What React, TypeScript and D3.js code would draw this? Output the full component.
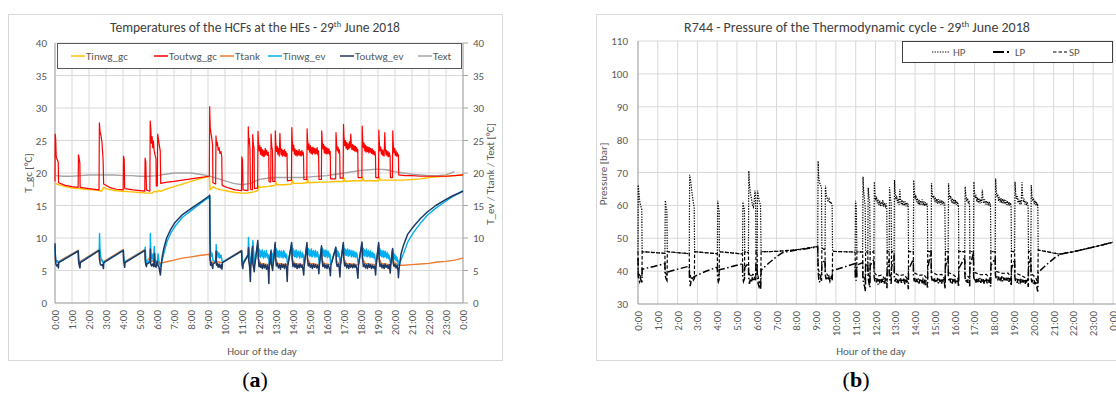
import React from "react";
import * as d3 from "d3";

type Pt = [number, number];

// ---------- shared axis data ----------
const HOUR_LABELS = [
  "0:00", "1:00", "2:00", "3:00", "4:00", "5:00", "6:00", "7:00", "8:00", "9:00",
  "10:00", "11:00", "12:00", "13:00", "14:00", "15:00", "16:00", "17:00", "18:00",
  "19:00", "20:00", "21:00", "22:00", "23:00", "0:00",
];
const T_TICKS = [0, 5, 10, 15, 20, 25, 30, 35, 40];
const P_TICKS = [30, 40, 50, 60, 70, 80, 90, 100, 110];

// ---------- (a) temperatures [hour, °C] ----------
const TINWG_GC: Pt[] = [
  [0, 18.4], [0.2, 18.2], [0.6, 17.9], [1.0, 17.7], [1.4, 17.6], [1.8, 17.5], [2.2, 17.4], [2.6, 17.3], [2.75, 17.2], [2.85, 17.8],
  [3.0, 17.6], [3.5, 17.3], [4.0, 17.2], [4.5, 17.1], [5.0, 17.0], [5.4, 16.9], [5.7, 16.9], [5.85, 17.2], [6.0, 17.1], [6.1, 17.3],
  [6.25, 17.2], [6.5, 17.5], [7.0, 17.9], [7.5, 18.3], [8.0, 18.7], [8.5, 19.1], [9.08, 19.5], [9.12, 17.4], [9.2, 17.6], [9.3, 17.9],
  [9.5, 17.6], [9.8, 17.4], [10.2, 17.2], [10.6, 17.0], [11.0, 16.9], [11.3, 16.9], [11.5, 17.0], [11.7, 17.1], [11.93, 17.3], [11.96, 18.0],
  [12.05, 17.8], [12.5, 17.9], [12.7, 18.0], [12.95, 18.1], [12.98, 18.7], [13.05, 18.2], [13.5, 18.2], [13.92, 18.3], [13.95, 18.9], [14.02, 18.4],
  [14.5, 18.4], [14.82, 18.5], [14.85, 19.1], [14.92, 18.5], [15.5, 18.6], [16.0, 18.6], [16.5, 18.7], [16.96, 18.7], [16.99, 19.3], [17.06, 18.7],
  [17.5, 18.8], [18.06, 18.8], [18.09, 19.4], [18.16, 18.8], [18.5, 18.8], [19.04, 18.8], [19.07, 19.4], [19.14, 18.9], [19.5, 18.9], [20.0, 18.9],
  [20.2, 18.9], [20.5, 18.9], [21.0, 19.0], [21.5, 19.1], [22.0, 19.3], [22.5, 19.4], [23.0, 19.5], [23.5, 19.6], [24, 19.7],
];

const TOUTWG_GC: Pt[] = [
  [0, 18.7], [0.01, 26.0], [0.04, 25.3], [0.07, 22.6], [0.12, 22.1], [0.19, 21.7], [0.21, 18.5], [0.6, 18.1], [1.0, 17.9], [1.36, 17.8],
  [1.38, 22.8], [1.42, 22.2], [1.46, 21.6], [1.48, 17.8], [2.0, 17.6], [2.59, 17.4], [2.61, 27.7], [2.65, 26.4], [2.7, 25.8], [2.76, 24.8],
  [2.83, 22.0], [2.86, 18.3], [3.2, 17.8], [3.6, 17.5], [4.01, 17.4], [4.03, 22.6], [4.07, 22.1], [4.1, 17.6], [4.6, 17.4], [5.0, 17.3],
  [5.28, 17.2], [5.3, 22.3], [5.34, 21.7], [5.38, 17.4], [5.58, 17.2], [5.6, 28.0], [5.63, 27.0], [5.67, 24.6], [5.71, 25.6], [5.75, 23.9],
  [5.79, 24.9], [5.83, 23.5], [5.88, 22.8], [5.94, 22.2], [5.96, 18.0], [6.02, 18.0], [6.04, 26.0], [6.09, 25.1], [6.14, 24.2], [6.19, 23.4],
  [6.22, 18.4], [6.6, 18.6], [7.0, 18.7], [7.5, 18.9], [8.0, 19.1], [8.5, 19.3], [9.08, 19.5], [9.1, 30.2], [9.13, 27.0], [9.17, 26.2],
  [9.22, 25.4], [9.27, 24.3], [9.29, 18.5], [9.45, 18.3], [9.47, 25.7], [9.51, 24.2], [9.55, 24.7], [9.6, 23.5], [9.65, 23.9], [9.7, 23.0],
  [9.76, 23.3], [9.81, 22.5], [9.83, 18.1], [10.2, 17.7], [10.6, 17.4], [10.97, 17.3], [10.99, 22.5], [11.03, 22.0], [11.06, 17.4], [11.35, 17.3],
  [11.37, 27.1], [11.4, 24.5], [11.43, 25.3], [11.47, 23.6], [11.5, 17.5], [11.61, 17.4], [11.63, 25.9], [11.67, 24.4], [11.71, 23.8], [11.73, 17.6],
  [11.92, 17.7], [11.94, 26.4], [11.97, 24.8], [12.01, 23.4], [12.05, 24.2], [12.09, 22.9], [12.13, 23.9], [12.17, 22.7], [12.21, 23.6], [12.25, 22.5],
  [12.29, 23.4], [12.33, 22.6], [12.37, 23.8], [12.41, 22.8], [12.45, 23.5], [12.5, 22.7], [12.54, 23.2], [12.57, 22.6], [12.59, 18.7], [12.69, 18.6],
  [12.71, 26.0], [12.75, 24.1], [12.79, 23.5], [12.81, 18.7], [12.94, 18.7], [12.96, 26.5], [12.99, 24.6], [13.03, 23.3], [13.07, 24.1], [13.11, 22.9],
  [13.15, 23.8], [13.19, 22.6], [13.23, 26.1], [13.26, 23.9], [13.3, 22.8], [13.34, 23.7], [13.38, 22.6], [13.42, 23.5], [13.46, 22.7], [13.5, 23.6],
  [13.54, 22.5], [13.58, 23.3], [13.62, 22.6], [13.65, 23.0], [13.67, 18.8], [13.91, 18.9], [13.93, 27.0], [13.96, 24.8], [14.0, 23.4], [14.04, 24.3],
  [14.08, 22.9], [14.12, 23.7], [14.16, 22.7], [14.2, 23.5], [14.24, 22.6], [14.28, 23.4], [14.32, 22.8], [14.36, 23.6], [14.4, 22.7], [14.44, 23.3],
  [14.48, 22.6], [14.52, 23.5], [14.56, 22.8], [14.6, 23.2], [14.62, 22.7], [14.64, 19.0], [14.81, 19.0], [14.83, 26.8], [14.86, 24.9], [14.9, 23.6],
  [14.94, 24.5], [14.98, 23.2], [15.02, 24.2], [15.06, 23.0], [15.1, 23.9], [15.14, 22.9], [15.18, 24.0], [15.22, 23.1], [15.26, 23.8], [15.3, 22.9],
  [15.34, 23.7], [15.38, 23.0], [15.42, 23.9], [15.46, 22.8], [15.5, 23.4], [15.53, 19.0], [15.67, 19.0], [15.69, 26.5], [15.72, 24.9], [15.76, 23.7],
  [15.8, 24.4], [15.84, 23.1], [15.88, 24.1], [15.92, 23.0], [15.96, 23.9], [16.0, 22.9], [16.04, 23.8], [16.08, 23.0], [16.12, 23.7], [16.16, 22.8],
  [16.19, 23.3], [16.21, 19.1], [16.51, 19.1], [16.53, 26.2], [16.57, 24.3], [16.61, 23.4], [16.65, 24.0], [16.69, 23.1], [16.73, 23.6], [16.75, 22.9],
  [16.77, 19.2], [16.95, 19.2], [16.97, 27.5], [17.0, 25.6], [17.04, 24.2], [17.08, 25.0], [17.12, 23.8], [17.16, 24.7], [17.2, 23.6], [17.24, 24.5],
  [17.28, 23.7], [17.32, 24.8], [17.36, 23.9], [17.4, 26.0], [17.43, 24.3], [17.47, 23.6], [17.51, 24.4], [17.55, 23.5], [17.59, 24.2], [17.63, 23.4],
  [17.67, 24.1], [17.71, 23.3], [17.75, 23.9], [17.79, 23.2], [17.81, 23.6], [17.83, 19.3], [18.05, 19.3], [18.07, 27.2], [18.1, 25.1], [18.14, 23.9],
  [18.18, 24.6], [18.22, 23.4], [18.26, 24.3], [18.3, 23.2], [18.34, 24.1], [18.38, 23.3], [18.42, 24.0], [18.46, 23.1], [18.5, 23.9], [18.54, 23.2],
  [18.58, 23.8], [18.62, 23.0], [18.66, 23.7], [18.7, 22.9], [18.74, 23.5], [18.78, 22.8], [18.82, 23.3], [18.85, 22.7], [18.87, 19.3], [19.03, 19.3],
  [19.05, 26.6], [19.08, 24.6], [19.12, 23.4], [19.16, 24.0], [19.2, 22.9], [19.24, 23.6], [19.28, 22.7], [19.32, 23.4], [19.36, 22.6], [19.4, 26.2],
  [19.43, 23.8], [19.47, 22.8], [19.51, 23.5], [19.55, 22.6], [19.59, 23.3], [19.63, 22.5], [19.67, 23.1], [19.71, 22.6], [19.73, 19.3], [19.85, 19.3],
  [19.87, 26.5], [19.9, 24.3], [19.94, 23.1], [19.98, 23.8], [20.02, 22.7], [20.06, 23.4], [20.1, 22.6], [20.14, 23.1], [20.18, 22.5], [20.2, 22.8],
  [20.22, 19.7], [20.6, 19.6], [21.0, 19.6], [21.5, 19.5], [22.0, 19.5], [22.5, 19.5], [23.0, 19.5], [23.5, 19.6], [24, 19.7],
];

const TTANK: Pt[] = [
  [0, 7.1], [0.03, 6.5], [0.2, 6.3], [0.22, 6.4], [1.36, 8.1], [1.38, 6.6], [1.47, 6.3], [1.49, 6.4], [2.59, 8.2], [2.62, 6.7],
  [2.85, 6.3], [2.87, 6.4], [4.01, 8.2], [4.04, 6.6], [4.1, 6.3], [4.12, 6.4], [5.28, 8.2], [5.31, 6.7], [5.38, 6.4], [5.4, 6.5],
  [5.58, 6.9], [5.61, 6.5], [5.95, 6.3], [6.03, 6.5], [6.2, 6.1], [6.5, 6.3], [7.0, 6.6], [7.5, 6.9], [8.0, 7.1], [8.5, 7.3],
  [9.08, 7.5], [9.12, 6.6], [9.3, 6.2], [9.46, 6.4], [9.82, 6.2], [9.85, 6.3], [10.97, 8.1], [11.0, 6.5], [11.05, 6.2], [11.07, 6.3],
  [11.35, 7.3], [11.4, 6.4], [11.49, 5.8], [11.52, 6.0], [11.61, 8.4], [11.64, 6.5], [11.72, 5.7], [11.75, 6.0], [11.92, 9.0], [11.96, 6.8],
  [12.1, 6.1], [12.58, 5.9], [12.6, 6.0], [12.69, 7.8], [12.72, 6.4], [12.8, 5.9], [12.83, 6.0], [12.94, 8.8], [12.98, 6.8], [13.1, 6.1],
  [13.66, 5.9], [13.69, 6.0], [13.91, 8.8], [13.95, 6.8], [14.1, 6.1], [14.63, 5.9], [14.66, 6.0], [14.81, 8.7], [14.85, 6.8], [15.0, 6.1],
  [15.52, 5.9], [15.55, 6.0], [15.67, 8.4], [15.71, 6.6], [15.85, 6.1], [16.2, 5.9], [16.23, 6.0], [16.51, 8.3], [16.55, 6.5], [16.76, 5.9],
  [16.79, 6.0], [16.95, 8.8], [16.99, 6.8], [17.15, 6.1], [17.82, 5.9], [17.85, 6.0], [18.05, 8.9], [18.09, 6.8], [18.25, 6.1], [18.86, 5.9],
  [18.89, 6.0], [19.03, 8.8], [19.07, 6.8], [19.2, 6.1], [19.72, 5.9], [19.75, 6.0], [19.85, 8.1], [19.89, 6.4], [20.2, 5.8], [20.5, 5.8],
  [21.0, 5.9], [21.5, 6.0], [22.0, 6.1], [22.5, 6.3], [23.0, 6.4], [23.5, 6.6], [24, 6.9],
];

const TINWG_EV: Pt[] = [
  [0, 8.8], [0.02, 7.6], [0.05, 6.6], [0.1, 6.3], [0.15, 6.5], [0.2, 6.0], [0.22, 6.3], [1.37, 8.0], [1.39, 6.9], [1.43, 6.3],
  [1.47, 6.0], [1.49, 6.3], [2.6, 8.1], [2.62, 10.7], [2.65, 8.3], [2.7, 6.9], [2.77, 6.6], [2.85, 6.0], [2.87, 6.3], [4.02, 8.1],
  [4.04, 7.1], [4.08, 6.4], [4.1, 6.1], [4.12, 6.3], [5.29, 8.1], [5.31, 8.6], [5.35, 6.7], [5.38, 6.2], [5.4, 6.3], [5.59, 6.5],
  [5.61, 10.7], [5.64, 8.0], [5.68, 6.8], [5.73, 7.5], [5.78, 6.5], [5.84, 8.7], [5.88, 6.7], [5.95, 6.1], [5.99, 6.4], [6.03, 6.6],
  [6.06, 7.6], [6.12, 6.4], [6.2, 5.6], [6.25, 6.0], [6.3, 6.5], [6.4, 7.6], [6.57, 9.3], [6.8, 10.7], [7.06, 11.8], [7.5, 13.2],
  [8.1, 14.4], [8.6, 15.4], [9.08, 16.3], [9.1, 16.4], [9.12, 11.2], [9.15, 8.1], [9.19, 7.2], [9.23, 7.7], [9.28, 6.8], [9.3, 6.5],
  [9.46, 6.4], [9.48, 9.0], [9.52, 7.4], [9.56, 7.9], [9.6, 7.0], [9.65, 7.7], [9.7, 6.9], [9.76, 7.4], [9.82, 6.6], [9.85, 6.3],
  [10.98, 8.0], [11.0, 6.9], [11.05, 6.2], [11.07, 6.2], [11.36, 7.5], [11.38, 10.1], [11.41, 8.5], [11.45, 7.6], [11.49, 6.3], [11.52, 6.0],
  [11.62, 8.7], [11.64, 9.6], [11.68, 8.0], [11.72, 7.0], [11.75, 6.1], [11.93, 9.0], [11.95, 8.6], [11.98, 7.6], [12.01, 8.3], [12.04, 7.2],
  [12.07, 8.1], [12.1, 7.0], [12.13, 7.9], [12.16, 7.3], [12.19, 8.2], [12.22, 7.1], [12.25, 7.8], [12.28, 6.9], [12.31, 8.0], [12.34, 7.2],
  [12.37, 7.7], [12.4, 7.0], [12.43, 8.1], [12.46, 7.3], [12.49, 7.6], [12.52, 6.9], [12.55, 7.4], [12.58, 6.4], [12.6, 5.8], [12.7, 7.9],
  [12.72, 8.2], [12.75, 7.3], [12.78, 7.6], [12.8, 6.5], [12.83, 6.0], [12.95, 9.0], [12.97, 8.5], [13.0, 7.6], [13.03, 8.3], [13.06, 7.2],
  [13.09, 8.0], [13.12, 7.1], [13.15, 7.9], [13.18, 7.0], [13.21, 8.1], [13.24, 7.3], [13.27, 7.8], [13.3, 7.0], [13.33, 8.0], [13.36, 7.2],
  [13.39, 7.7], [13.42, 6.9], [13.45, 8.1], [13.48, 7.2], [13.51, 7.8], [13.54, 7.0], [13.57, 7.6], [13.6, 6.9], [13.63, 7.4], [13.66, 6.3],
  [13.69, 5.9], [13.92, 9.0], [13.94, 8.6], [13.97, 7.6], [14.0, 8.4], [14.03, 7.3], [14.06, 8.1], [14.09, 7.1], [14.12, 7.9], [14.15, 7.2],
  [14.18, 8.2], [14.21, 7.0], [14.24, 7.8], [14.27, 7.1], [14.3, 8.0], [14.33, 7.3], [14.36, 7.7], [14.39, 6.9], [14.42, 8.0], [14.45, 7.2],
  [14.48, 7.6], [14.51, 7.0], [14.54, 7.8], [14.57, 7.1], [14.6, 7.5], [14.63, 6.4], [14.66, 5.9], [14.82, 9.0], [14.84, 8.7], [14.87, 7.7],
  [14.9, 8.4], [14.93, 7.4], [14.96, 8.2], [14.99, 7.2], [15.02, 8.0], [15.05, 7.3], [15.08, 8.3], [15.11, 7.1], [15.14, 7.9], [15.17, 7.2],
  [15.2, 8.1], [15.23, 7.4], [15.26, 7.8], [15.29, 7.0], [15.32, 8.1], [15.35, 7.3], [15.38, 7.7], [15.41, 7.1], [15.44, 7.9], [15.47, 7.2],
  [15.5, 7.4], [15.52, 6.5], [15.55, 5.9], [15.68, 8.6], [15.7, 8.5], [15.73, 7.6], [15.76, 8.3], [15.79, 7.3], [15.82, 8.1], [15.85, 7.2],
  [15.88, 8.0], [15.91, 7.1], [15.94, 8.2], [15.97, 7.3], [16.0, 7.9], [16.03, 7.0], [16.06, 8.0], [16.09, 7.2], [16.12, 7.7], [16.15, 7.0],
  [16.18, 7.5], [16.2, 6.4], [16.23, 5.9], [16.52, 8.4], [16.54, 8.3], [16.57, 7.4], [16.6, 8.1], [16.63, 7.2], [16.66, 7.9], [16.69, 7.1],
  [16.72, 7.6], [16.76, 6.3], [16.79, 5.9], [16.96, 9.0], [16.98, 8.7], [17.01, 7.7], [17.04, 8.4], [17.07, 7.4], [17.1, 8.2], [17.13, 7.3],
  [17.16, 8.1], [17.19, 7.4], [17.22, 8.3], [17.25, 7.2], [17.28, 8.0], [17.31, 7.3], [17.34, 8.2], [17.37, 7.4], [17.4, 7.9], [17.43, 7.1],
  [17.46, 8.1], [17.49, 7.3], [17.52, 7.8], [17.55, 7.1], [17.58, 8.0], [17.61, 7.2], [17.64, 7.7], [17.67, 7.0], [17.7, 7.8], [17.73, 7.1],
  [17.76, 7.6], [17.79, 7.0], [17.82, 6.3], [17.85, 5.9], [18.06, 9.1], [18.08, 8.7], [18.11, 7.7], [18.14, 8.4], [18.17, 7.3], [18.2, 8.2],
  [18.23, 7.2], [18.26, 8.0], [18.29, 7.4], [18.32, 8.3], [18.35, 7.1], [18.38, 7.9], [18.41, 7.2], [18.44, 8.1], [18.47, 7.3], [18.5, 7.8],
  [18.53, 7.0], [18.56, 8.0], [18.59, 7.2], [18.62, 7.7], [18.65, 7.0], [18.68, 7.8], [18.71, 7.1], [18.74, 7.6], [18.77, 6.9], [18.8, 7.5],
  [18.83, 6.9], [18.86, 6.3], [18.89, 5.9], [19.04, 9.0], [19.06, 8.6], [19.09, 7.6], [19.12, 8.3], [19.15, 7.3], [19.18, 8.1], [19.21, 7.1],
  [19.24, 7.9], [19.27, 7.2], [19.3, 8.1], [19.33, 7.0], [19.36, 7.8], [19.39, 7.1], [19.42, 8.0], [19.45, 7.2], [19.48, 7.6], [19.51, 6.9],
  [19.54, 7.8], [19.57, 7.0], [19.6, 7.5], [19.63, 6.8], [19.66, 7.3], [19.69, 6.7], [19.72, 6.2], [19.75, 5.9], [19.86, 8.2], [19.88, 8.0],
  [19.91, 7.1], [19.94, 7.6], [19.97, 6.8], [20.0, 7.4], [20.03, 6.6], [20.06, 7.2], [20.09, 6.5], [20.12, 7.0], [20.15, 6.3], [20.18, 6.6],
  [20.2, 5.8], [20.25, 5.9], [20.35, 6.6], [20.5, 7.6], [20.75, 9.4], [21.1, 10.9], [21.5, 12.3], [21.9, 13.5], [22.4, 14.6], [22.9, 15.5],
  [23.4, 16.4], [23.7, 16.8], [24, 17.3],
];

const TOUTWG_EV: Pt[] = [
  [0, 9.2], [0.02, 7.2], [0.05, 6.0], [0.1, 5.7], [0.15, 5.9], [0.2, 5.4], [0.22, 6.2], [1.37, 8.0], [1.39, 6.3], [1.43, 5.7],
  [1.47, 5.4], [1.49, 6.2], [2.6, 8.1], [2.62, 6.8], [2.66, 6.0], [2.72, 5.8], [2.8, 5.9], [2.85, 5.3], [2.87, 6.2], [4.02, 8.1],
  [4.04, 6.4], [4.08, 5.8], [4.1, 5.5], [4.12, 6.2], [5.29, 8.1], [5.31, 6.4], [5.35, 5.8], [5.38, 5.6], [5.4, 6.0], [5.59, 6.3],
  [5.61, 8.3], [5.63, 6.0], [5.68, 5.7], [5.74, 6.0], [5.8, 5.6], [5.86, 7.6], [5.88, 5.7], [5.95, 5.5], [5.99, 6.2], [6.03, 6.4],
  [6.06, 5.8], [6.12, 5.5], [6.2, 4.3], [6.25, 5.8], [6.3, 7.0], [6.4, 8.4], [6.57, 10.0], [6.8, 11.3], [7.06, 12.4], [7.5, 13.6],
  [8.1, 14.7], [8.6, 15.6], [9.08, 16.5], [9.1, 16.6], [9.12, 7.0], [9.15, 5.8], [9.2, 6.2], [9.25, 5.6], [9.28, 5.3], [9.3, 6.0],
  [9.46, 6.3], [9.48, 8.0], [9.5, 5.8], [9.55, 6.1], [9.6, 5.5], [9.66, 6.0], [9.72, 5.4], [9.78, 5.9], [9.82, 5.2], [9.85, 6.2],
  [10.98, 8.0], [11.0, 6.0], [11.05, 5.3], [11.07, 6.0], [11.36, 7.4], [11.38, 8.5], [11.4, 6.5], [11.45, 5.5], [11.49, 3.3], [11.52, 5.6],
  [11.62, 8.7], [11.64, 6.0], [11.7, 5.2], [11.72, 4.8], [11.75, 5.8], [11.93, 9.6], [11.96, 7.0], [12.0, 5.6], [12.05, 6.1], [12.1, 5.5],
  [12.15, 5.9], [12.2, 5.3], [12.26, 6.0], [12.32, 5.4], [12.38, 5.9], [12.44, 5.2], [12.5, 5.8], [12.55, 4.9], [12.58, 3.0], [12.6, 5.5],
  [12.7, 8.0], [12.72, 6.0], [12.77, 5.5], [12.8, 5.0], [12.83, 5.8], [12.95, 9.3], [12.98, 6.8], [13.02, 5.7], [13.08, 6.1], [13.14, 5.4],
  [13.2, 5.9], [13.26, 5.2], [13.32, 6.0], [13.38, 5.5], [13.44, 5.9], [13.5, 5.3], [13.56, 6.0], [13.62, 5.4], [13.66, 3.3], [13.69, 5.6],
  [13.92, 9.3], [13.95, 6.8], [14.0, 5.6], [14.06, 6.1], [14.12, 5.5], [14.18, 6.0], [14.24, 5.3], [14.3, 5.9], [14.36, 5.4], [14.42, 6.0],
  [14.48, 5.5], [14.54, 5.8], [14.6, 5.0], [14.63, 4.3], [14.66, 5.7], [14.82, 9.3], [14.85, 6.9], [14.9, 5.7], [14.96, 6.1], [15.02, 5.5],
  [15.08, 5.9], [15.14, 5.3], [15.2, 6.0], [15.26, 5.5], [15.32, 5.9], [15.38, 5.4], [15.44, 5.8], [15.5, 5.2], [15.52, 4.5], [15.55, 5.8],
  [15.68, 8.8], [15.71, 6.6], [15.76, 5.6], [15.82, 6.0], [15.88, 5.4], [15.94, 5.9], [16.0, 5.3], [16.06, 5.9], [16.12, 5.5], [16.17, 5.0],
  [16.2, 4.2], [16.23, 5.8], [16.52, 8.6], [16.55, 6.2], [16.6, 5.6], [16.66, 6.0], [16.72, 5.4], [16.76, 4.0], [16.79, 5.8], [16.96, 9.3],
  [16.99, 6.8], [17.04, 5.7], [17.1, 6.1], [17.16, 5.4], [17.22, 5.9], [17.28, 5.3], [17.34, 6.0], [17.4, 5.5], [17.46, 5.9], [17.52, 5.4],
  [17.58, 6.0], [17.64, 5.5], [17.7, 5.8], [17.76, 5.2], [17.82, 3.8], [17.85, 5.8], [18.06, 9.4], [18.09, 6.9], [18.14, 5.6], [18.2, 6.0],
  [18.26, 5.4], [18.32, 5.9], [18.38, 5.3], [18.44, 6.0], [18.5, 5.5], [18.56, 5.9], [18.62, 5.3], [18.68, 5.8], [18.74, 5.4], [18.8, 5.7],
  [18.86, 4.3], [18.89, 5.8], [19.04, 9.3], [19.07, 6.8], [19.12, 5.6], [19.18, 6.0], [19.24, 5.4], [19.3, 5.9], [19.36, 5.3], [19.42, 6.0],
  [19.48, 5.5], [19.54, 5.8], [19.6, 5.3], [19.66, 5.9], [19.72, 4.6], [19.75, 5.8], [19.86, 8.4], [19.89, 6.2], [19.95, 5.6], [20.0, 6.0],
  [20.06, 5.4], [20.12, 5.8], [20.18, 5.0], [20.2, 3.9], [20.25, 5.5], [20.35, 7.5], [20.5, 8.9], [20.75, 10.6], [21.1, 11.8], [21.5, 13.0],
  [21.9, 14.0], [22.4, 15.0], [22.9, 15.8], [23.4, 16.5], [24, 17.2],
];

const TEXT_AIR: Pt[] = [
  [0, 19.6], [0.5, 19.5], [1.0, 19.5], [1.5, 19.6], [2.0, 19.7], [2.5, 19.7], [3.0, 19.7], [3.5, 19.7], [4.0, 19.6], [4.5, 19.6],
  [5.0, 19.5], [5.5, 19.5], [6.0, 19.6], [6.5, 19.8], [7.0, 20.0], [7.5, 20.0], [8.0, 20.0], [8.5, 19.8], [9.0, 19.6], [9.5, 19.2],
  [10.0, 18.8], [10.5, 18.4], [11.0, 18.2], [11.5, 18.4], [12.0, 19.0], [12.5, 19.2], [13.0, 19.3], [13.5, 19.3], [14.0, 19.3], [14.5, 19.3],
  [15.0, 19.4], [15.5, 19.5], [16.0, 19.6], [16.5, 19.8], [17.0, 20.0], [17.5, 20.2], [18.0, 20.4], [18.5, 20.5], [19.0, 20.6], [19.5, 20.5],
  [20.0, 20.2], [20.5, 20.0], [21.0, 19.8], [21.5, 19.7], [22.0, 19.6], [22.5, 19.6], [23.0, 19.7], [23.5, 20.2],
];

// ---------- (b) pressures [hour, bar] ----------
const HP: Pt[] = [
  [0, 45.8], [0.01, 66.2], [0.04, 64.5], [0.08, 61.5], [0.13, 60.0], [0.19, 58.8], [0.21, 45.9], [0.8, 45.7], [1.36, 45.4], [1.38, 61.5],
  [1.42, 59.6], [1.46, 58.5], [1.48, 45.9], [2.0, 45.6], [2.59, 45.3], [2.61, 69.3], [2.66, 67.6], [2.71, 64.8], [2.77, 61.8], [2.84, 59.4],
  [2.86, 45.9], [3.4, 45.6], [4.01, 45.3], [4.03, 61.4], [4.07, 59.1], [4.1, 58.6], [4.11, 45.9], [4.7, 45.6], [5.28, 45.2], [5.3, 61.0],
  [5.34, 59.5], [5.38, 58.8], [5.39, 45.9], [5.58, 45.6], [5.6, 70.5], [5.63, 66.5], [5.68, 63.6], [5.73, 62.2], [5.78, 60.2], [5.83, 59.5],
  [5.87, 61.2], [5.91, 64.5], [5.94, 63.2], [5.96, 45.9], [6.02, 45.7], [6.04, 64.5], [6.08, 63.0], [6.13, 61.3], [6.19, 60.0], [6.22, 45.9],
  [7.0, 46.0], [7.5, 46.2], [8.0, 46.5], [8.5, 46.9], [9.08, 47.5], [9.1, 73.5], [9.13, 68.5], [9.17, 67.0], [9.21, 66.4], [9.27, 65.5],
  [9.29, 47.0], [9.45, 46.5], [9.47, 66.0], [9.51, 63.4], [9.55, 62.3], [9.6, 61.4], [9.65, 62.0], [9.7, 60.6], [9.76, 61.1], [9.81, 59.8],
  [9.83, 46.0], [10.4, 45.9], [10.97, 45.8], [10.99, 61.4], [11.03, 59.4], [11.06, 45.9], [11.35, 45.8], [11.37, 68.7], [11.4, 64.5], [11.44, 62.0],
  [11.48, 59.6], [11.5, 45.9], [11.61, 45.8], [11.63, 65.4], [11.67, 62.6], [11.71, 60.5], [11.73, 45.9], [11.92, 45.8], [11.94, 67.2], [11.97, 64.0],
  [12.01, 61.5], [12.05, 62.7], [12.09, 60.6], [12.13, 61.9], [12.17, 60.1], [12.21, 61.5], [12.25, 59.8], [12.29, 61.1], [12.33, 59.9], [12.37, 61.6],
  [12.41, 59.6], [12.45, 60.8], [12.5, 59.7], [12.54, 60.6], [12.57, 59.5], [12.59, 46.0], [12.69, 45.9], [12.71, 65.5], [12.75, 62.2], [12.79, 61.0],
  [12.81, 46.0], [12.94, 45.9], [12.96, 67.7], [12.99, 64.2], [13.03, 61.8], [13.07, 62.9], [13.11, 60.7], [13.15, 62.0], [13.19, 60.2], [13.23, 65.0],
  [13.26, 62.0], [13.3, 60.4], [13.34, 61.7], [13.38, 60.0], [13.42, 61.4], [13.46, 59.9], [13.5, 61.2], [13.54, 59.7], [13.58, 60.9], [13.62, 59.8],
  [13.65, 60.5], [13.67, 46.0], [13.91, 45.9], [13.93, 67.7], [13.96, 64.6], [14.0, 62.0], [14.04, 63.1], [14.08, 61.0], [14.12, 62.2], [14.16, 60.4],
  [14.2, 61.8], [14.24, 60.1], [14.28, 61.5], [14.32, 60.3], [14.36, 61.8], [14.4, 60.0], [14.44, 61.2], [14.48, 59.8], [14.52, 61.0], [14.56, 59.9],
  [14.6, 60.7], [14.62, 59.6], [14.64, 46.0], [14.81, 45.9], [14.83, 66.7], [14.86, 63.9], [14.9, 62.2], [14.94, 63.0], [14.98, 61.2], [15.02, 62.5],
  [15.06, 60.8], [15.1, 62.0], [15.14, 60.5], [15.18, 61.9], [15.22, 60.6], [15.26, 61.7], [15.3, 60.2], [15.34, 61.5], [15.38, 60.4], [15.42, 61.3],
  [15.46, 60.0], [15.5, 60.8], [15.53, 46.0], [15.67, 45.9], [15.69, 66.7], [15.72, 63.8], [15.76, 62.0], [15.8, 62.9], [15.84, 60.9], [15.88, 62.2],
  [15.92, 60.5], [15.96, 61.9], [16.0, 60.3], [16.04, 61.6], [16.08, 60.2], [16.12, 61.2], [16.16, 59.9], [16.19, 60.6], [16.21, 46.0], [16.51, 45.9],
  [16.53, 65.7], [16.57, 62.8], [16.61, 61.3], [16.65, 62.2], [16.69, 60.5], [16.73, 61.4], [16.75, 60.2], [16.77, 46.0], [16.95, 45.9], [16.97, 67.2],
  [17.0, 64.3], [17.04, 62.3], [17.08, 63.2], [17.12, 61.1], [17.16, 62.4], [17.2, 60.7], [17.24, 62.0], [17.28, 60.6], [17.32, 61.9], [17.36, 60.8],
  [17.4, 64.8], [17.43, 62.0], [17.47, 60.6], [17.51, 61.8], [17.55, 60.3], [17.59, 61.5], [17.63, 60.2], [17.67, 61.3], [17.71, 60.0], [17.75, 61.1],
  [17.79, 59.9], [17.81, 60.5], [17.83, 46.0], [18.05, 45.9], [18.07, 68.2], [18.1, 64.8], [18.14, 62.5], [18.18, 63.4], [18.22, 61.3], [18.26, 62.6],
  [18.3, 60.9], [18.34, 62.2], [18.38, 60.7], [18.42, 62.0], [18.46, 60.6], [18.5, 61.8], [18.54, 60.4], [18.58, 61.6], [18.62, 60.2], [18.66, 61.4],
  [18.7, 60.0], [18.74, 61.1], [18.78, 59.9], [18.82, 60.8], [18.85, 59.7], [18.87, 46.0], [19.03, 45.9], [19.05, 67.2], [19.08, 64.0], [19.12, 62.0],
  [19.16, 62.8], [19.2, 60.8], [19.24, 62.0], [19.28, 60.4], [19.32, 61.6], [19.36, 60.2], [19.4, 67.0], [19.43, 63.2], [19.47, 61.0], [19.51, 62.0],
  [19.55, 60.3], [19.59, 61.4], [19.63, 60.0], [19.67, 61.0], [19.71, 59.8], [19.73, 46.0], [19.85, 45.9], [19.87, 66.2], [19.9, 63.1], [19.94, 61.3],
  [19.98, 62.2], [20.02, 60.4], [20.06, 61.5], [20.1, 60.1], [20.14, 61.0], [20.18, 59.8], [20.2, 60.4], [20.22, 46.4], [20.6, 46.0], [21.0, 45.5],
  [21.3, 45.2], [21.7, 45.6], [22.0, 45.9], [22.5, 46.6], [23.0, 47.3], [23.5, 48.0], [24, 48.8],
];

const LP: Pt[] = [
  [0, 44.0], [0.01, 38.6], [0.04, 37.4], [0.08, 36.8], [0.12, 37.9], [0.16, 37.1], [0.2, 36.6], [0.21, 40.6], [0.8, 41.4], [1.36, 42.3],
  [1.37, 39.0], [1.41, 37.8], [1.46, 37.2], [1.48, 39.7], [2.0, 40.6], [2.59, 41.5], [2.6, 38.2], [2.64, 35.4], [2.69, 37.4], [2.75, 38.1],
  [2.8, 37.3], [2.85, 37.8], [2.86, 38.4], [3.4, 39.9], [4.01, 41.2], [4.02, 38.0], [4.06, 36.8], [4.1, 37.5], [4.11, 40.4], [4.7, 41.3],
  [5.28, 42.2], [5.29, 38.4], [5.33, 36.9], [5.38, 37.7], [5.39, 41.1], [5.58, 42.4], [5.59, 38.6], [5.63, 36.1], [5.68, 37.8], [5.73, 36.5],
  [5.78, 38.1], [5.83, 36.9], [5.88, 38.4], [5.94, 37.2], [5.96, 41.9], [6.02, 42.5], [6.03, 38.5], [6.07, 36.2], [6.12, 35.2], [6.17, 36.0],
  [6.2, 34.5], [6.22, 40.3], [6.6, 42.4], [7.0, 44.4], [7.3, 45.6], [7.6, 46.0], [8.0, 46.4], [8.5, 46.8], [9.08, 47.4], [9.1, 40.5],
  [9.13, 37.6], [9.17, 36.6], [9.22, 38.0], [9.27, 37.1], [9.29, 42.2], [9.45, 43.4], [9.46, 39.1], [9.5, 37.5], [9.55, 38.5], [9.6, 37.2],
  [9.65, 38.2], [9.7, 36.9], [9.76, 38.0], [9.81, 37.2], [9.83, 40.2], [10.4, 41.2], [10.97, 42.3], [10.98, 38.1], [11.02, 37.1], [11.05, 37.9],
  [11.06, 41.8], [11.35, 42.6], [11.36, 38.0], [11.4, 36.1], [11.45, 35.4], [11.49, 33.9], [11.5, 41.5], [11.61, 42.9], [11.62, 38.4], [11.67, 36.4],
  [11.72, 35.0], [11.73, 41.7], [11.92, 43.6], [11.93, 38.3], [11.97, 36.9], [12.01, 37.9], [12.05, 36.6], [12.09, 37.7], [12.13, 35.9], [12.17, 37.5],
  [12.21, 36.8], [12.25, 37.9], [12.29, 36.4], [12.33, 37.6], [12.37, 36.7], [12.41, 37.8], [12.45, 36.2], [12.5, 37.4], [12.54, 36.6], [12.58, 34.8],
  [12.59, 40.2], [12.69, 43.5], [12.7, 38.5], [12.74, 37.0], [12.79, 36.2], [12.81, 41.0], [12.94, 44.8], [12.95, 38.2], [12.99, 36.8], [13.03, 37.8],
  [13.07, 36.5], [13.11, 37.6], [13.15, 36.3], [13.19, 37.7], [13.23, 36.9], [13.27, 37.8], [13.31, 36.4], [13.35, 37.5], [13.39, 36.6], [13.43, 37.7],
  [13.47, 35.8], [13.51, 37.4], [13.55, 36.5], [13.59, 37.6], [13.63, 36.3], [13.66, 34.5], [13.67, 40.5], [13.91, 43.6], [13.92, 38.4], [13.96, 36.9],
  [14.0, 37.9], [14.04, 36.4], [14.08, 37.6], [14.12, 36.6], [14.16, 37.8], [14.2, 36.2], [14.24, 37.5], [14.28, 36.7], [14.32, 37.7], [14.36, 36.3],
  [14.4, 37.4], [14.44, 36.6], [14.48, 37.6], [14.52, 35.7], [14.56, 37.3], [14.6, 36.5], [14.63, 35.0], [14.64, 41.0], [14.81, 46.2], [14.82, 38.6],
  [14.86, 37.1], [14.9, 38.0], [14.94, 36.6], [14.98, 37.8], [15.02, 36.4], [15.06, 37.7], [15.1, 36.8], [15.14, 37.9], [15.18, 36.3], [15.22, 37.6],
  [15.26, 36.7], [15.3, 37.8], [15.34, 36.2], [15.38, 37.5], [15.42, 36.6], [15.46, 37.6], [15.5, 35.6], [15.52, 34.6], [15.53, 41.2], [15.67, 44.6],
  [15.68, 38.4], [15.72, 36.9], [15.76, 37.8], [15.8, 36.5], [15.84, 37.7], [15.88, 36.2], [15.92, 37.6], [15.96, 36.7], [16.0, 37.8], [16.04, 36.3],
  [16.08, 37.5], [16.12, 36.6], [16.16, 37.4], [16.2, 35.2], [16.21, 40.8], [16.51, 44.2], [16.52, 38.3], [16.56, 36.8], [16.6, 37.7], [16.64, 36.4],
  [16.68, 37.5], [16.72, 36.6], [16.76, 35.4], [16.77, 41.4], [16.95, 45.6], [16.96, 38.5], [17.0, 37.0], [17.04, 37.9], [17.08, 36.5], [17.12, 37.8],
  [17.16, 36.3], [17.2, 37.7], [17.24, 36.8], [17.28, 37.9], [17.32, 36.4], [17.36, 37.6], [17.4, 36.7], [17.44, 37.8], [17.48, 36.2], [17.52, 37.5],
  [17.56, 36.6], [17.6, 37.7], [17.64, 36.3], [17.68, 37.4], [17.72, 36.5], [17.76, 37.5], [17.8, 36.0], [17.82, 35.3], [17.83, 41.6], [18.05, 44.0],
  [18.06, 38.9], [18.1, 37.6], [18.14, 38.4], [18.18, 37.2], [18.22, 38.3], [18.26, 37.0], [18.3, 38.2], [18.34, 37.4], [18.38, 38.4], [18.42, 36.9],
  [18.46, 38.1], [18.5, 37.2], [18.54, 38.2], [18.58, 36.8], [18.62, 38.0], [18.66, 37.1], [18.7, 38.1], [18.74, 36.7], [18.78, 37.9], [18.82, 36.6],
  [18.86, 35.5], [18.87, 40.8], [19.03, 43.5], [19.04, 38.2], [19.08, 36.8], [19.12, 37.7], [19.16, 36.4], [19.2, 37.6], [19.24, 36.2], [19.28, 37.5],
  [19.32, 36.7], [19.36, 37.7], [19.4, 36.3], [19.44, 37.4], [19.48, 36.5], [19.52, 37.6], [19.56, 36.1], [19.6, 37.3], [19.64, 36.4], [19.68, 37.2],
  [19.72, 35.2], [19.73, 41.0], [19.85, 44.2], [19.86, 38.0], [19.9, 36.6], [19.94, 37.4], [19.98, 36.2], [20.02, 37.2], [20.06, 36.0], [20.1, 37.0],
  [20.14, 35.6], [20.18, 34.2], [20.2, 33.8], [20.22, 39.6], [20.5, 41.2], [20.8, 42.8], [21.1, 44.3], [21.4, 45.2], [21.7, 45.6], [22.0, 45.9],
  [22.5, 46.6], [23.0, 47.3], [23.5, 48.0], [24, 48.8],
];

const SP: Pt[] = [
  [0, 45.8], [0.01, 39.5], [0.1, 38.6], [0.2, 38.2], [0.21, 45.9], [1.36, 45.4], [1.37, 39.6], [1.47, 38.6], [1.48, 45.9], [2.59, 45.3],
  [2.6, 39.8], [2.7, 37.4], [2.85, 38.5], [2.86, 45.9], [4.01, 45.3], [4.02, 39.4], [4.1, 38.4], [4.11, 45.9], [5.28, 45.2], [5.29, 39.6],
  [5.38, 38.6], [5.39, 45.9], [5.58, 45.6], [5.59, 39.8], [5.7, 38.2], [5.8, 39.0], [5.95, 38.4], [5.96, 45.9], [6.02, 45.7], [6.03, 39.5],
  [6.12, 36.8], [6.2, 36.0], [6.22, 45.9], [7.0, 46.0], [8.0, 46.5], [9.08, 47.5], [9.1, 41.0], [9.2, 38.6], [9.28, 38.2], [9.29, 47.0],
  [9.45, 46.5], [9.46, 40.0], [9.6, 38.6], [9.82, 38.3], [9.83, 46.0], [10.97, 45.8], [10.98, 39.4], [11.05, 38.8], [11.06, 45.9], [11.35, 45.8],
  [11.36, 39.2], [11.49, 36.5], [11.5, 45.9], [11.61, 45.8], [11.62, 39.5], [11.72, 37.2], [11.73, 45.9], [11.92, 45.8], [11.93, 39.6], [12.1, 38.5],
  [12.3, 38.8], [12.58, 37.0], [12.59, 46.0], [12.69, 45.9], [12.7, 39.6], [12.8, 38.0], [12.81, 46.0], [12.94, 45.9], [12.95, 39.5], [13.2, 38.6],
  [13.45, 38.9], [13.66, 37.2], [13.67, 46.0], [13.91, 45.9], [13.92, 39.6], [14.2, 38.7], [14.45, 38.9], [14.63, 37.4], [14.64, 46.0], [14.81, 45.9],
  [14.82, 39.8], [15.1, 38.9], [15.35, 39.0], [15.52, 37.3], [15.53, 46.0], [15.67, 45.9], [15.68, 39.6], [15.95, 38.8], [16.2, 37.6], [16.21, 46.0],
  [16.51, 45.9], [16.52, 39.4], [16.76, 37.8], [16.77, 46.0], [16.95, 45.9], [16.96, 39.7], [17.3, 38.9], [17.6, 39.0], [17.82, 37.5], [17.83, 46.0],
  [18.05, 45.9], [18.06, 40.0], [18.4, 39.3], [18.7, 39.4], [18.86, 37.9], [18.87, 46.0], [19.03, 45.9], [19.04, 39.5], [19.4, 38.6], [19.72, 37.4],
  [19.73, 46.0], [19.85, 45.9], [19.86, 39.3], [20.1, 38.0], [20.2, 36.2], [20.22, 46.4], [21.0, 45.5], [21.3, 45.2], [22.0, 45.9], [23.0, 47.3],
  [24, 48.8],
];

// ---------- styling ----------
const FONT = "Carlito, Calibri, Lato, 'Liberation Sans', Arial, sans-serif";
const SERIF = "'Liberation Serif', 'DejaVu Serif', serif";
const GRID = "#D9D9D9";
const AXIS = "#A6A6A6";
const LABEL = "#595959";

type Series = { name: string; data: Pt[]; color: string; width: number };

const SERIES_A: Series[] = [
  { name: "Tinwg_gc", data: TINWG_GC, color: "#FFC000", width: 1.4 },
  { name: "Toutwg_gc", data: TOUTWG_GC, color: "#FF0000", width: 1.2 },
  { name: "Ttank", data: TTANK, color: "#ED7D31", width: 1.4 },
  { name: "Tinwg_ev", data: TINWG_EV, color: "#00B0F0", width: 1.4 },
  { name: "Toutwg_ev", data: TOUTWG_EV, color: "#203864", width: 1.5 },
  { name: "Text", data: TEXT_AIR, color: "#A5A5A5", width: 1.4 },
];
// draw order: ambient first so the process lines sit on top
const DRAW_ORDER_A = ["Text", "Tinwg_gc", "Toutwg_gc", "Ttank", "Tinwg_ev", "Toutwg_ev"];

type DashSeries = { name: string; data: Pt[]; dash: string; width: number };
const SERIES_B: DashSeries[] = [
  { name: "HP", data: HP, dash: "1.3,1.3", width: 1.2 },
  { name: "LP", data: LP, dash: "7,2.5,1.5,2.5", width: 1.5 },
  { name: "SP", data: SP, dash: "3.5,2", width: 1.2 },
];

function Title({ x, y, main, size }: { x: number; y: number; main: string; size: number }) {
  return (
    <text x={x} y={y} textAnchor="middle" fontFamily={FONT} fontSize={size} fill="#404040">
      {main}29<tspan dy={-5} fontSize={size * 0.63}>th</tspan>
      <tspan dy={5}> June 2018</tspan>
    </text>
  );
}

export default function App() {
  // (a) scales
  const xA = d3.scaleLinear().domain([0, 24]).range([55, 463]);
  const yA = d3.scaleLinear().domain([0, 40]).range([303, 43]);
  // (b) scales – the right chart runs on past the picture's right edge
  const xB = d3.scaleLinear().domain([0, 24]).range([638, 1113]);
  const yB = d3.scaleLinear().domain([30, 110]).range([304, 41]);

  const lineA = d3.line<Pt>().x((d) => xA(d[0])).y((d) => yA(d[1]));
  const lineB = d3.line<Pt>().x((d) => xB(d[0])).y((d) => yB(d[1]));

  const hours = d3.range(0, 25);
  const byName = new Map(SERIES_A.map((s) => [s.name, s]));

  const legendA = [
    { name: "Tinwg_gc", x: 71 },
    { name: "Toutwg_gc", x: 154 },
    { name: "Ttank", x: 220 },
    { name: "Tinwg_ev", x: 268 },
    { name: "Toutwg_ev", x: 340 },
    { name: "Text", x: 418 },
  ];

  return (
    <svg
      width={1116}
      height={395}
      style={{ position: "absolute", left: 0, top: 0, background: "#fff" }}
      fontFamily={FONT}
    >
      <rect x={0} y={0} width={1116} height={395} fill="#fff" />

      {/* ================= (a) ================= */}
      <rect x={8.5} y={14.5} width={494} height={346} fill="#fff" stroke={GRID} />
      <Title x={255} y={32} size={13.5} main="Temperatures of the HCFs at the HEs - " />

      {/* grid */}
      {T_TICKS.map((t) => (
        <line key={"ga" + t} x1={xA(0)} x2={xA(24)} y1={yA(t)} y2={yA(t)} stroke={GRID} />
      ))}
      {hours.map((h) => (
        <line key={"gva" + h} x1={xA(h)} x2={xA(h)} y1={yA(0)} y2={yA(40)} stroke={GRID} />
      ))}

      {/* axes */}
      <line x1={xA(0)} x2={xA(0)} y1={yA(0)} y2={yA(40)} stroke={AXIS} />
      <line x1={xA(24)} x2={xA(24)} y1={yA(0)} y2={yA(40)} stroke={AXIS} />
      <line x1={xA(0)} x2={xA(24)} y1={yA(0)} y2={yA(0)} stroke={AXIS} />
      {T_TICKS.map((t) => (
        <g key={"ta" + t}>
          <text x={47} y={yA(t) + 4} textAnchor="end" fontSize={11} fill={LABEL}>{t}</text>
          <line x1={xA(24)} x2={xA(24) + 5} y1={yA(t)} y2={yA(t)} stroke={AXIS} />
          <text x={473} y={yA(t) + 4} textAnchor="start" fontSize={11} fill={LABEL}>{t}</text>
        </g>
      ))}
      {hours.map((h) => (
        <text
          key={"xa" + h}
          transform={`translate(${xA(h) + 4},310) rotate(-90)`}
          textAnchor="end"
          fontSize={11}
          fill={LABEL}
        >
          {HOUR_LABELS[h]}
        </text>
      ))}

      {/* series */}
      {DRAW_ORDER_A.map((n) => {
        const s = byName.get(n)!;
        return (
          <path key={n} d={lineA(s.data) || ""} fill="none" stroke={s.color} strokeWidth={s.width} strokeLinejoin="round" />
        );
      })}

      {/* legend */}
      <rect x={57.5} y={43.5} width={404} height={25} fill="#fff" stroke="#595959" />
      {legendA.map((l) => {
        const s = byName.get(l.name)!;
        return (
          <g key={"la" + l.name}>
            <line x1={l.x} x2={l.x + 14} y1={56} y2={56} stroke={s.color} strokeWidth={1.5} />
            <text x={l.x + 15} y={60} fontSize={11} fill={LABEL}>{l.name}</text>
          </g>
        );
      })}

      {/* axis titles */}
      <text transform="translate(32,173) rotate(-90)" textAnchor="middle" fontSize={11} fill={LABEL}>T_gc [°C]</text>
      <text transform="translate(494,174) rotate(-90)" textAnchor="middle" fontSize={11} fill={LABEL}>T_ev / Ttank / Text [°C]</text>
      <text x={262} y={355} textAnchor="middle" fontSize={11} fill={LABEL}>Hour of the day</text>

      <text x={255} y={387} textAnchor="middle" fontFamily={SERIF} fontSize={22} fill="#000">
        (<tspan fontWeight="bold">a</tspan>)
      </text>

      {/* ================= (b) ================= */}
      <rect x={596.5} y={14.5} width={560} height={346} fill="#fff" stroke={GRID} />
      <Title x={857} y={32} size={14} main="R744 - Pressure of the Thermodynamic cycle - " />

      {P_TICKS.map((p) => (
        <line key={"gb" + p} x1={xB(0)} x2={xB(24)} y1={yB(p)} y2={yB(p)} stroke={GRID} />
      ))}
      {hours.map((h) => (
        <line key={"gvb" + h} x1={xB(h)} x2={xB(h)} y1={yB(30)} y2={yB(110)} stroke={GRID} />
      ))}
      <line x1={xB(0)} x2={xB(0)} y1={yB(30)} y2={yB(110)} stroke={AXIS} />
      <line x1={xB(0)} x2={1116} y1={yB(30)} y2={yB(30)} stroke={AXIS} />
      {P_TICKS.map((p) => (
        <text key={"tb" + p} x={628} y={yB(p) + 4} textAnchor="end" fontSize={11} fill={LABEL}>{p}</text>
      ))}
      {hours.map((h) => (
        <text
          key={"xb" + h}
          transform={`translate(${xB(h) + 4},311) rotate(-90)`}
          textAnchor="end"
          fontSize={11}
          fill={LABEL}
        >
          {HOUR_LABELS[h]}
        </text>
      ))}

      {SERIES_B.map((s) => (
        <path key={s.name} d={lineB(s.data) || ""} fill="none" stroke="#000" strokeWidth={s.width} strokeDasharray={s.dash} />
      ))}

      {/* legend */}
      <rect x={902.5} y={41.5} width={210} height={21} fill="#fff" stroke="#404040" />
      <line x1={932} x2={950} y1={52} y2={52} stroke="#000" strokeWidth={1.2} strokeDasharray="1.3,1.3" />
      <text x={953} y={56} fontSize={11} fill={LABEL}>HP</text>
      <line x1={993} x2={1010} y1={52} y2={52} stroke="#000" strokeWidth={2} strokeDasharray="11,3,2,10" />
      <text x={1015} y={56} fontSize={11} fill={LABEL}>LP</text>
      <line x1={1053} x2={1067} y1={52} y2={52} stroke="#000" strokeWidth={1.2} strokeDasharray="3.5,2" />
      <text x={1069} y={56} fontSize={11} fill={LABEL}>SP</text>

      <text transform="translate(607,174) rotate(-90)" textAnchor="middle" fontSize={11} fill={LABEL}>Pressure [bar]</text>
      <text x={871} y={355} textAnchor="middle" fontSize={11} fill={LABEL}>Hour of the day</text>

      <text x={856} y={387} textAnchor="middle" fontFamily={SERIF} fontSize={22} fill="#000">
        (<tspan fontWeight="bold">b</tspan>)
      </text>
    </svg>
  );
}
